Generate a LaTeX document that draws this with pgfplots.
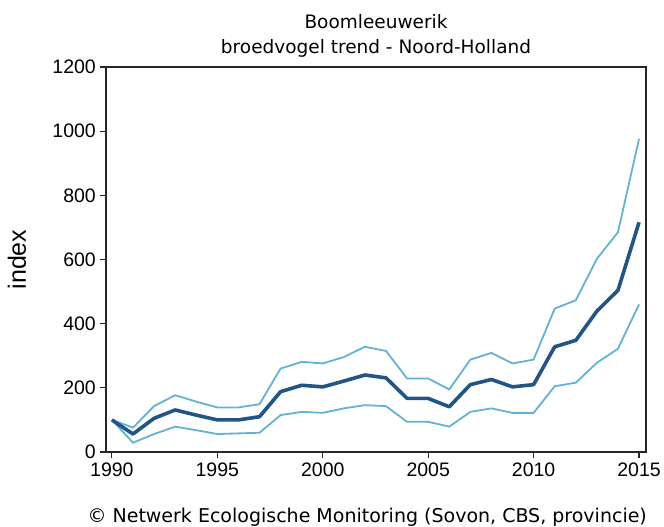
\documentclass[border=0pt]{standalone}
\usepackage{pgfplots}
\pgfplotsset{compat=1.18}
\usepackage{fontspec}
\setmainfont{DejaVu Sans}
\newfontfamily\tickfont{Liberation Sans}

\definecolor{trendblue}{RGB}{33,84,135}
\definecolor{bandblue}{RGB}{98,178,214}

\begin{document}
\begin{tikzpicture}
\begin{axis}[
    scale only axis,
    width=540bp, height=385bp,
    xmin=1989.72, xmax=2015.33,
    ymin=0, ymax=1200,
    xtick={1990,1995,...,2015},
    ytick={0,200,...,1200},
    xtick pos=bottom, ytick pos=left,
    tick align=outside,
    major tick length=6bp,
    axis line style={black!85, line width=1.3bp},
    tick style={black!85, line width=1.1bp},
    ticklabel style={font=\tickfont\fontsize{19.5bp}{21bp}\selectfont, inner sep=0pt},
    xticklabel style={yshift=-5bp},
    yticklabel style={xshift=-4bp},
    /pgf/number format/1000 sep={},
    /pgf/number format/assume math mode=true,
    clip=false,
]
% lower bound
\addplot[bandblue, line width=1.8bp] coordinates {
(1990,100) (1991,29) (1992,56) (1993,79) (1994,68) (1995,56) (1996,58)
(1997,60) (1998,115) (1999,125) (2000,122) (2001,136) (2002,146) (2003,143)
(2004,94) (2005,94) (2006,79) (2007,125) (2008,136) (2009,122) (2010,122)
(2011,205) (2012,216) (2013,278) (2014,322) (2015,460)};
% upper bound
\addplot[bandblue, line width=1.8bp] coordinates {
(1990,100) (1991,76) (1992,143) (1993,177) (1994,157) (1995,139) (1996,139)
(1997,149) (1998,260) (1999,281) (2000,276) (2001,296) (2002,328) (2003,315)
(2004,229) (2005,229) (2006,195) (2007,288) (2008,309) (2009,276) (2010,288)
(2011,447) (2012,473) (2013,602) (2014,685) (2015,976)};
% trend
\addplot[trendblue, line width=3.6bp, line join=round] coordinates {
(1990,100) (1991,56) (1992,105) (1993,131) (1994,115) (1995,100) (1996,100)
(1997,110) (1998,188) (1999,208) (2000,203) (2001,221) (2002,240) (2003,231)
(2004,167) (2005,167) (2006,141) (2007,210) (2008,226) (2009,203) (2010,210)
(2011,328) (2012,348) (2013,439) (2014,504) (2015,716)};

\node[rotate=90, anchor=center, font=\tickfont\fontsize{25bp}{27bp}\selectfont] at ([xshift=-89bp]rel axis cs:0,0.5) {index};
\node[anchor=base, font=\fontsize{18.5bp}{20bp}\selectfont] at ([yshift=38.5bp]rel axis cs:0.5,1) {Boomleeuwerik};
\node[anchor=base, font=\fontsize{18.5bp}{20bp}\selectfont] at ([yshift=13.5bp]rel axis cs:0.5,1) {broedvogel trend - Noord-Holland};
\node[anchor=base east, inner sep=0pt, font=\fontsize{19bp}{20bp}\selectfont] at ([xshift=1bp, yshift=-70bp]rel axis cs:1,0) {© Netwerk Ecologische Monitoring (Sovon, CBS, provincie)};
\end{axis}
\path[use as bounding box] ([xshift=-106bp, yshift=-75bp]current axis.south west) rectangle ([xshift=18bp, yshift=67bp]current axis.north east);
\end{tikzpicture}
\end{document}
